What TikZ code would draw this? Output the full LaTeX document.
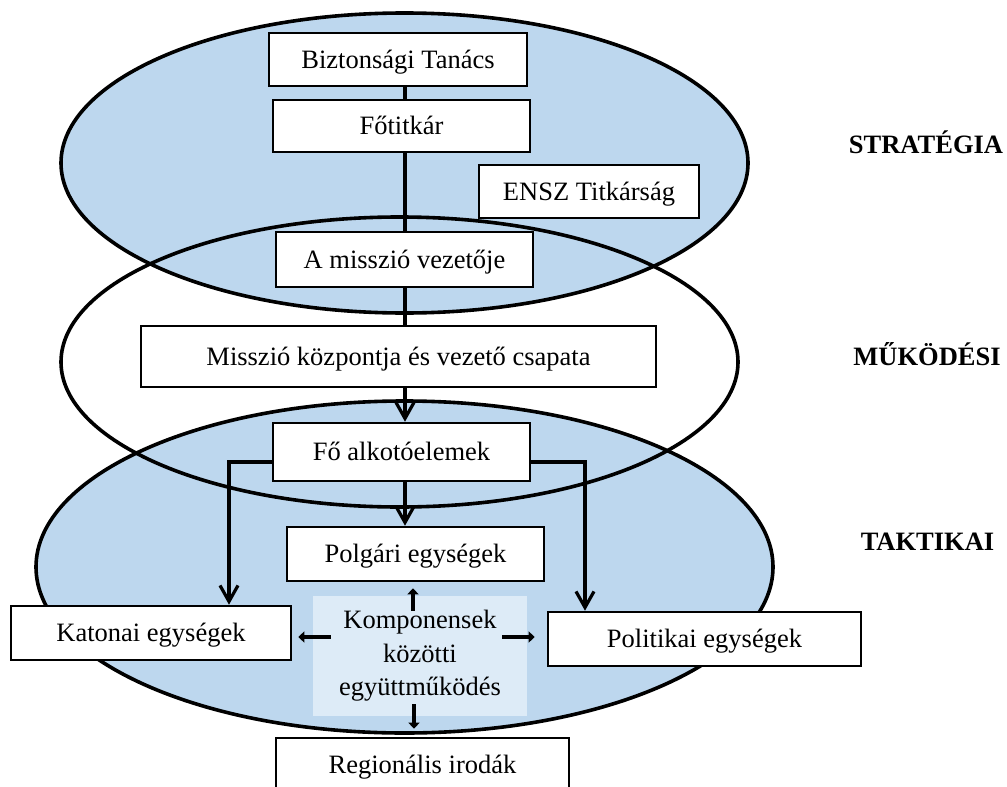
\documentclass[tikz,border=0pt]{standalone}
\usepackage{fontspec}
\setmainfont{Liberation Serif}
\usetikzlibrary{arrows.meta}
\definecolor{ellblue}{RGB}{189,215,238}
\definecolor{compblue}{RGB}{221,235,247}
\begin{document}
\begin{tikzpicture}[x=0.5pt,y=-0.5pt,
  font=\fontsize{13.25}{16.75}\selectfont,
  box/.style={draw, line width=1.3pt, fill=white, inner sep=0pt, text height=10pt, text depth=1.2pt},
  ell/.style={line width=1.8pt},
  link/.style={line width=1.6pt},
  arr/.style={link, -{Straight Barb[length=8pt,width=9pt]}},
  sarr/.style={line width=2pt, -{Triangle[length=3pt,width=5.5pt]}},
  lvl/.style={font=\fontsize{13.25}{16}\selectfont\bfseries, anchor=base}]
\path[use as bounding box] (0,0) rectangle (1007,787);
\clip (0,0) rectangle (1007,787);
% layers
\fill[ellblue] (404.5,163) ellipse [x radius=171.75pt, y radius=75pt];
\fill[ellblue] (404.5,567) ellipse [x radius=184.25pt, y radius=83pt];
\draw[ell] (404.5,163) ellipse [x radius=171.75pt, y radius=75pt];
\draw[ell] (399.5,362) ellipse [x radius=169.25pt, y radius=72.5pt];
\draw[ell] (404.5,567) ellipse [x radius=184.25pt, y radius=83pt];
% boxes
\node[box, minimum width=129pt, minimum height=26.5pt] (bt) at (398,59.5) {Biztonsági Tanács};
\node[box, minimum width=128.5pt, minimum height=26pt] (fo) at (401.5,126) {Főtitkár};
\node[box, minimum width=110pt, minimum height=26.5pt] (ensz) at (589,191.5) {ENSZ Titkárság};
\node[box, minimum width=128.5pt, minimum height=27.5pt] (misv) at (404.5,259.5) {A misszió vezetője};
\node[box, minimum width=257.5pt, minimum height=30.5pt] (mk) at (398.5,356.5) {Misszió központja és vezető csapata};
\node[box, minimum width=128.5pt, minimum height=29pt] (fae) at (401.5,452) {Fő alkotóelemek};
\node[box, minimum width=128.5pt, minimum height=27pt] (polg) at (415.5,554) {Polgári egységek};
\node[box, minimum width=140pt, minimum height=27pt] (kat) at (151,633) {Katonai egységek};
\node[box, minimum width=156.5pt, minimum height=27pt] (pol) at (704.5,639) {Politikai egységek};
\node[fill=compblue, inner sep=0pt, minimum width=107pt, minimum height=60pt, align=center] (komp) at (420,656) {Komponensek\\közötti\\együttműködés};
\node[box, minimum width=146.5pt, minimum height=27pt] (reg) at (422.5,765) {Regionális irodák};
% connectors
\coordinate (spine) at (405,0);
\coordinate (kx) at (229,0);
\coordinate (px) at (585,0);
\coordinate (ux) at (413,0);
\coordinate (dx) at (414,0);
\coordinate (ly) at (0,637);
\draw[link] (bt.south -| spine) -- (fo.north -| spine);
\draw[link] (fo.south -| spine) -- (misv.north -| spine);
\draw[link] (misv.south -| spine) -- (mk.north -| spine);
\draw[arr] (mk.south -| spine) -- (fae.north -| spine);
\draw[arr] (fae.south -| spine) -- (polg.north -| spine);
\draw[arr] ([yshift=-5pt]fae.west) -| (kat.north -| kx);
\draw[arr] ([yshift=-5pt]fae.east) -| (pol.north -| px);
\draw[sarr] ([yshift=-7.5pt]komp.north -| ux) -- ([yshift=-3pt]polg.south -| ux);
\draw[sarr] ([xshift=9pt]komp.west |- ly) -- ([xshift=3pt]kat.east |- ly);
\draw[sarr] ([xshift=-12.5pt]komp.east |- ly) -- ([xshift=-6pt]pol.west |- ly);
\draw[sarr] ([yshift=6pt]komp.south -| dx) -- ([yshift=4pt]reg.north -| dx);
% level labels
\node[lvl] (s) at (926,153) {STRATÉGIA};
\node[lvl] (m) at (927,365) {MŰKÖDÉSI};
\node[lvl] (t) at (927.5,550) {TAKTIKAI};
\end{tikzpicture}
\end{document}
